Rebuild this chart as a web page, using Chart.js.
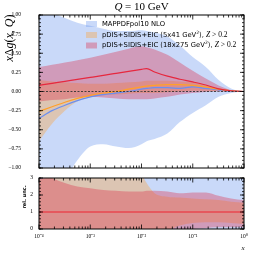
<!DOCTYPE html>
<html>
<head>
<meta charset="utf-8">
<script src="https://cdn.jsdelivr.net/npm/chart.js@4.4.1/dist/chart.umd.min.js"></script>
<style>
  html, body { margin: 0; padding: 0; background: #fff; width: 254px; height: 254px; overflow: hidden; }
  canvas { position: absolute; left: 0; }
  #top { top: 0; }
  #bot { top: 172px; }
</style>
</head>
<body>
<canvas id="top" width="254" height="172"></canvas>
<canvas id="bot" width="254" height="82"></canvas>
<script>
// x grid shared by every curve
const xGrid = [0.0001, 0.00018, 0.00032, 0.00056, 0.001, 0.0018, 0.0032, 0.0056, 0.01, 0.0126, 0.018, 0.032, 0.056, 0.1, 0.18, 0.32, 0.56, 1];

// MAPPDFpol10 NLO
const mapCentral = [-0.35, -0.25, -0.18, -0.12, -0.07, -0.04, -0.02, 0.0, 0.03, 0.04, 0.05, 0.05, 0.04, 0.06, 0.04, 0.02, 0.005, 0];
const mapUpper = [1.3, 1.05, 0.96, 0.9, 0.86, 0.82, 0.79, 0.79, 0.8, 0.79, 0.77, 0.72, 0.6, 0.45, 0.32, 0.15, 0.04, 0];
const mapLower = [-1.5, -1.3, -1.15, -0.9, -0.72, -0.69, -0.72, -0.74, -0.69, -0.65, -0.62, -0.55, -0.4, -0.28, -0.18, -0.07, -0.02, 0];

// pDIS+SIDIS+EIC 5x41
const eic41Central = [-0.26, -0.2, -0.14, -0.09, -0.05, -0.02, 0.0, 0.03, 0.06, 0.07, 0.08, 0.09, 0.09, 0.08, 0.06, 0.03, 0.01, 0];
const eic41Upper = [0.15, 0.13, 0.12, 0.11, 0.1, 0.1, 0.11, 0.12, 0.13, 0.14, 0.14, 0.14, 0.13, 0.12, 0.08, 0.04, 0.015, 0];
const eic41Lower = [-0.65, -0.42, -0.25, -0.13, -0.08, -0.05, -0.04, -0.03, -0.02, -0.02, -0.02, -0.01, 0.0, 0.01, 0.01, 0.005, 0, 0];

// pDIS+SIDIS+EIC 18x275
const eic275Central = [0.08, 0.107, 0.133, 0.159, 0.185, 0.21, 0.238, 0.264, 0.29, 0.3, 0.255, 0.2, 0.16, 0.125, 0.085, 0.035, 0.01, 0];
const eic275Upper = [0.32, 0.35, 0.38, 0.41, 0.44, 0.48, 0.52, 0.56, 0.59, 0.58, 0.55, 0.48, 0.38, 0.27, 0.17, 0.08, 0.02, 0];
const eic275Lower = [-0.13, -0.11, -0.1, -0.08, -0.07, -0.08, -0.09, -0.1, -0.1, -0.1, -0.09, -0.07, -0.04, -0.02, -0.005, 0, 0, 0];

const zeroLine = [0, 0, 0, 0, 0, 0, 0, 0, 0, 0, 0, 0, 0, 0, 0, 0, 0, 0];

// relative uncertainties (lower panel)
const relCentral = [1, 1, 1, 1, 1, 1, 1, 1, 1, 1, 1, 1, 1, 1, 1, 1, 1, 1];
const relMapUpper = [4, 4, 4, 4, 4, 4, 4, 4, 4, 4, 4, 4, 4, 4, 4, 4, 4, 4];
const relMapLower = [-1, -1, -1, -1, -1, -1, -1, -1, -1, -1, -1, -1, -1, -1, -1, -1, -1, -1];
const rel41Upper = [2.9, 3.1, 3.4, 3.6, 3.7, 3.7, 3.6, 3.5, 3.2, 2.7, 2.1, 1.9, 1.85, 1.8, 1.75, 1.7, 1.6, 1.55];
const rel41Lower = [-1, -1, -1, -1, -1, -1, -1, -1, -0.8, -0.6, -0.4, -0.1, 0.2, 0.35, 0.4, 0.4, 0.35, 0.3];
const rel275Upper = [3.3, 3.0, 2.7, 2.5, 2.4, 2.3, 2.25, 2.2, 2.2, 2.25, 2.25, 2.2, 2.1, 2.15, 2.15, 1.95, 1.8, 1.7];
const rel275Lower = [-1, -1, -1, -1, -1, -1, -1, -1, -1, -1, -1, -0.6, -0.2, 0.0, 0.05, 0.1, 0.1, 0.1];

// axis ticks
const xTickValues = [0.0001, 0.001, 0.01, 0.1, 1];
const xTickLabels = ["10\u207B\u2074", "10\u207B\u00B3", "10\u207B\u00B2", "10\u207B\u00B9", "10\u2070"];
const legendLabels = ["MAPPDFpol10 NLO", "pDIS+SIDIS+EIC (5x41 GeV", "pDIS+SIDIS+EIC (18x275 GeV"];

const BLUE_FILL = "rgba(120, 160, 240, 0.4)";
const ORANGE_FILL = "rgba(255, 160, 50, 0.35)";
const RED_FILL = "rgba(220, 40, 70, 0.35)";
const BLUE_LINE = "#6a8ff0";
const ORANGE_LINE = "#ffa02a";
const RED_LINE = "#e6283f";

const SERIF = "'Liberation Serif', serif";
const SANS = "'DejaVu Sans', sans-serif";
const tickFont = { family: SERIF, size: 5.5 };

const pts = (ys) => xGrid.map((x, i) => ({ x, y: ys[i] }));

function band(upper, lower, color, order) {
  return [
    { data: pts(upper), fill: "+1", backgroundColor: color, borderColor: "transparent", borderWidth: 0, pointRadius: 0, order, cubicInterpolationMode: "monotone" },
    { data: pts(lower), fill: false, borderColor: "transparent", borderWidth: 0, pointRadius: 0, order, cubicInterpolationMode: "monotone" },
  ];
}

function line(ys, color, order, width = 1.2, dash = []) {
  return { data: pts(ys), fill: false, borderColor: color, borderWidth: width, borderDash: dash, pointRadius: 0, order, cubicInterpolationMode: "monotone" };
}

function xMinorValues() {
  const out = [];
  for (let d = -4; d < 0; d++) for (let m = 2; m <= 9; m++) out.push(m * Math.pow(10, d));
  return out;
}

function range(a, b, step) {
  const out = [];
  for (let v = a; v <= b + 1e-9; v += step) out.push(v);
  return out;
}

// fixed axis width, no extra label padding pushing the plot area
function fixY(s) {
  s.width = 39;
  s.paddingTop = 0;
  s.paddingBottom = 0;
}

// inward ticks on all four sides + frame
const frameTicks = {
  id: "frameTicks",
  afterDraw(chart, args, o) {
    const { ctx, chartArea: a } = chart;
    const sx = chart.scales.x, sy = chart.scales.y;
    ctx.save();
    ctx.strokeStyle = "#000";
    ctx.lineWidth = 0.8;
    ctx.beginPath();
    const xt = (vals, len) => vals.forEach((v) => {
      const p = sx.getPixelForValue(v);
      ctx.moveTo(p, a.bottom); ctx.lineTo(p, a.bottom - len);
      ctx.moveTo(p, a.top); ctx.lineTo(p, a.top + len);
    });
    const yt = (vals, len) => vals.forEach((v) => {
      const p = sy.getPixelForValue(v);
      ctx.moveTo(a.left, p); ctx.lineTo(a.left + len, p);
      ctx.moveTo(a.right, p); ctx.lineTo(a.right - len, p);
    });
    xt(xTickValues, 4.5);
    xt(xMinorValues(), 2.5);
    yt(o.yMajor, 4);
    yt(o.yMinor, 2);
    ctx.stroke();
    ctx.lineWidth = 1;
    ctx.strokeRect(a.left, a.top, a.right - a.left, a.bottom - a.top);
    ctx.restore();
  },
};

function drawRuns(ctx, x, y, runs) {
  for (const [t, f, dy] of runs) {
    ctx.font = f;
    ctx.fillText(t, x, y + (dy || 0));
    x += ctx.measureText(t).width;
  }
  return x;
}

function runsWidth(ctx, runs) {
  let w = 0;
  for (const [t, f] of runs) { ctx.font = f; w += ctx.measureText(t).width; }
  return w;
}

const topText = {
  id: "topText",
  afterDraw(chart) {
    const { ctx, chartArea: a } = chart;
    ctx.save();
    ctx.fillStyle = "#000";
    ctx.textBaseline = "middle";

    // title
    const title = [["Q", `italic 11px ${SERIF}`], [" = 10 GeV", `11px ${SERIF}`]];
    drawRuns(ctx, (a.left + a.right) / 2 - runsWidth(ctx, title) / 2, 7, title);

    // y label
    const it = `italic 12px ${SERIF}`, rm = `12px ${SERIF}`;
    const ylab = [["x", it], ["\u0394", rm], ["g", it], ["(", rm], ["x", it], [", ", rm], ["Q", it], [")", rm]];
    ctx.save();
    ctx.translate(10, 38);
    ctx.rotate(-Math.PI / 2);
    drawRuns(ctx, -runsWidth(ctx, ylab) / 2, 0, ylab);
    ctx.restore();

    // legend
    const sans = `6.8px ${SANS}`;
    const rows = [
      { y: 24, color: BLUE_FILL, runs: [[legendLabels[0], sans]] },
      { y: 35, color: ORANGE_FILL, runs: [[legendLabels[1], sans], ["2", `4.5px ${SANS}`, -2.5], ["), ", sans], ["Z", `italic 7.5px ${SERIF}`], [" > 0.2", `7.5px ${SERIF}`]] },
      { y: 45.5, color: RED_FILL, runs: [[legendLabels[2], sans], ["2", `4.5px ${SANS}`, -2.5], ["), ", sans], ["Z", `italic 7.5px ${SERIF}`], [" > 0.2", `7.5px ${SERIF}`]] },
    ];
    rows.forEach((r) => {
      ctx.fillStyle = r.color;
      ctx.fillRect(86, r.y - 3, 11, 6);
      ctx.fillStyle = "#000";
      drawRuns(ctx, 102, r.y, r.runs);
    });
    ctx.restore();
  },
};

const botText = {
  id: "botText",
  afterDraw(chart) {
    const { ctx } = chart;
    ctx.save();
    ctx.fillStyle = "#000";
    ctx.textBaseline = "middle";
    ctx.textAlign = "center";
    ctx.save();
    ctx.translate(24.5, 25);
    ctx.rotate(-Math.PI / 2);
    ctx.font = `bold 5px ${SANS}`;
    ctx.fillText("rel. unc.", 0, 0);
    ctx.restore();
    ctx.font = `italic 7px ${SERIF}`;
    ctx.fillText("x", 243, 76);
    ctx.restore();
  },
};

new Chart(document.getElementById("top"), {
  type: "line",
  data: {
    datasets: [
      ...band(mapUpper, mapLower, BLUE_FILL, 10),
      ...band(eic41Upper, eic41Lower, ORANGE_FILL, 9),
      ...band(eic275Upper, eic275Lower, RED_FILL, 8),
      line(mapCentral, BLUE_LINE, 4),
      line(eic41Central, ORANGE_LINE, 3),
      line(eic275Central, RED_LINE, 2),
      line(zeroLine, "#333", 1, 0.9, [2, 1.5]),
    ],
  },
  options: {
    responsive: false,
    animation: false,
    devicePixelRatio: 1,
    layout: { padding: { left: 0, right: 10, top: 15, bottom: 4 } },
    plugins: {
      legend: { display: false },
      tooltip: { enabled: false },
      frameTicks: { yMajor: range(-1, 1, 0.25), yMinor: range(-1, 1, 0.05) },
    },
    scales: {
      x: { type: "logarithmic", min: 0.0001, max: 1, display: false },
      y: {
        min: -1,
        max: 1,
        grid: { display: false, drawTicks: false },
        border: { display: false },
        ticks: {
          stepSize: 0.25,
          padding: 18,
          color: "#000",
          font: tickFont,
          callback: (v) => (Math.abs(v) < 1e-9 ? "0.00" : v.toFixed(2).replace("-", "\u2212")),
        },
        afterFit: fixY,
      },
    },
  },
  plugins: [frameTicks, topText],
});

new Chart(document.getElementById("bot"), {
  type: "line",
  data: {
    datasets: [
      ...band(relMapUpper, relMapLower, BLUE_FILL, 10),
      ...band(rel41Upper, rel41Lower, ORANGE_FILL, 9),
      ...band(rel275Upper, rel275Lower, RED_FILL, 8),
      line(relCentral, "#e8474f", 2, 1.6),
    ],
  },
  options: {
    responsive: false,
    animation: false,
    devicePixelRatio: 1,
    layout: { padding: { left: 0, right: 10, top: 6, bottom: 0 } },
    plugins: {
      legend: { display: false },
      tooltip: { enabled: false },
      frameTicks: { yMajor: range(0, 3, 1), yMinor: range(0, 3, 0.2) },
    },
    scales: {
      x: {
        type: "logarithmic",
        min: 0.0001,
        max: 1,
        grid: { display: false, drawTicks: false },
        border: { display: false },
        afterBuildTicks(s) { s.ticks = xTickValues.map((v) => ({ value: v })); },
        ticks: {
          autoSkip: false,
          maxRotation: 0,
          padding: 4,
          color: "#000",
          font: tickFont,
          callback: (v) => xTickLabels[xTickValues.indexOf(v)] || "",
        },
        afterFit(s) {
          s.height = 25;
          s.paddingLeft = 0;
          s.paddingRight = 0;
        },
      },
      y: {
        min: 0,
        max: 3,
        grid: { display: false, drawTicks: false },
        border: { display: false },
        ticks: { stepSize: 1, padding: 6, color: "#000", font: tickFont },
        afterFit: fixY,
      },
    },
  },
  plugins: [frameTicks, botText],
});
</script>
</body>
</html>
